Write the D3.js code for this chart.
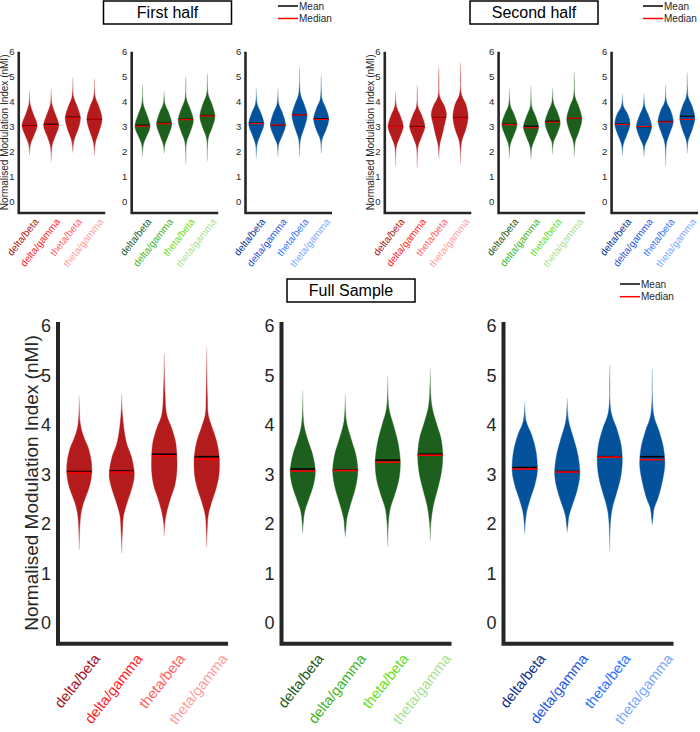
<!DOCTYPE html>
<html>
<head>
<meta charset="utf-8">
<script src="https://cdn.jsdelivr.net/npm/d3@7"></script>
<style>
  body { margin: 0; background: #fff; }
  text { font-family: "Liberation Sans", Arial, Helvetica, sans-serif; }
</style>
</head>
<body>
<div id="chart"></div>
<script>
var categories = ["delta/beta", "delta/gamma", "theta/beta", "theta/gamma"];
var yTicks = [0, 1, 2, 3, 4, 5, 6];
var yLabel = "Normalised Modulation Index (nMI)";
var legendLabels = ["Mean", "Median"];
var titles = ["First half", "Second half", "Full Sample"];

// fill per group: red, green, blue
var groupColors = ["#b31b1d", "#1d5f1d", "#04529b"];
var labelColors = [
  ["#a8121a", "#ff1c1c", "#ff5e5e", "#ff9c9c"],
  ["#1b5a1b", "#3fb325", "#66dd18", "#a9df92"],
  ["#0f2d8c", "#1f55de", "#2e74ff", "#79a9ff"]
];

// violin outlines: [value, relative half width]
var shapeFirst = [
  [
    [[4.45,0],[3.9,0.08],[3.5,0.5],[3.05,1],[2.6,0.5],[2.3,0.12],[1.85,0]],
    [[4.52,0],[3.9,0.1],[3.5,0.55],[3.05,1],[2.6,0.5],[2.25,0.12],[1.6,0]],
    [[4.97,0],[4.2,0.1],[3.8,0.6],[3.35,1],[2.9,0.7],[2.5,0.2],[1.96,0]],
    [[4.93,0],[4.2,0.1],[3.8,0.6],[3.3,1],[2.8,0.6],[2.4,0.15],[1.84,0]]
  ],
  [
    [[4.71,0],[3.9,0.1],[3.5,0.55],[3.0,1],[2.6,0.5],[2.3,0.12],[1.8,0]],
    [[4.4,0],[3.9,0.12],[3.6,0.55],[3.1,1],[2.65,0.55],[2.3,0.12],[1.93,0]],
    [[5.0,0],[4.1,0.1],[3.7,0.6],[3.25,1],[2.8,0.6],[2.4,0.12],[1.49,0]],
    [[5.13,0],[4.3,0.1],[3.9,0.6],[3.4,1],[2.95,0.6],[2.55,0.12],[1.63,0]]
  ],
  [
    [[4.53,0],[3.9,0.12],[3.55,0.6],[3.1,1],[2.65,0.5],[2.3,0.1],[1.73,0]],
    [[4.53,0],[3.9,0.12],[3.55,0.6],[3.05,1],[2.6,0.5],[2.3,0.1],[1.8,0]],
    [[5.4,0],[4.3,0.12],[3.9,0.6],[3.45,1],[2.95,0.6],[2.5,0.12],[1.8,0]],
    [[5.07,0],[4.1,0.12],[3.75,0.6],[3.3,1],[2.85,0.6],[2.5,0.12],[1.93,0]]
  ]
];
var shapeSecond = [
  [
    [[4.4,0],[3.8,0.12],[3.45,0.6],[3.0,1],[2.55,0.5],[2.2,0.1],[1.43,0]],
    [[4.67,0],[3.8,0.1],[3.45,0.6],[3.0,1],[2.55,0.5],[2.2,0.1],[1.33,0]],
    [[5.4,0],[4.2,0.12],[3.85,0.7],[3.5,1],[3.1,0.75],[2.7,0.45],[2.3,0.12],[1.73,0]],
    [[5.56,0],[4.3,0.12],[3.9,0.7],[3.4,1],[2.9,0.7],[2.4,0.15],[1.49,0]]
  ],
  [
    [[4.53,0],[3.85,0.12],[3.5,0.6],[3.08,1],[2.65,0.55],[2.3,0.12],[1.73,0]],
    [[4.63,0],[3.8,0.1],[3.45,0.55],[2.98,1],[2.55,0.55],[2.2,0.12],[1.69,0]],
    [[4.57,0],[3.95,0.12],[3.6,0.6],[3.15,1],[2.7,0.55],[2.4,0.12],[1.89,0]],
    [[5.2,0],[4.2,0.1],[3.8,0.6],[3.3,1],[2.8,0.6],[2.4,0.12],[1.8,0]]
  ],
  [
    [[4.31,0],[3.8,0.15],[3.5,0.7],[3.1,1],[2.65,0.55],[2.3,0.12],[1.83,0]],
    [[4.31,0],[3.8,0.12],[3.45,0.6],[3.0,1],[2.55,0.55],[2.25,0.12],[1.8,0]],
    [[4.67,0],[4.0,0.12],[3.65,0.65],[3.2,1],[2.75,0.55],[2.35,0.12],[1.4,0]],
    [[5.16,0],[4.2,0.12],[3.85,0.6],[3.35,1],[2.85,0.6],[2.45,0.12],[1.93,0]]
  ]
];
var shapeFull = [
  [
    [[4.58,0],[4.0,0.1],[3.73,0.4],[3.53,0.73],[3.26,0.96],[3.06,1],[2.85,0.9],[2.65,0.67],[2.45,0.37],[2.25,0.16],[2.05,0.07],[1.47,0]],
    [[4.63,0],[4.2,0.06],[3.66,0.35],[3.33,0.8],[2.99,1],[2.72,0.8],[2.45,0.45],[2.18,0.15],[1.84,0.05],[1.41,0]],
    [[5.45,0],[4.66,0.06],[4.2,0.2],[3.93,0.6],[3.66,0.9],[3.39,1],[3.06,1],[2.79,0.85],[2.52,0.5],[2.25,0.2],[2.05,0.06],[1.76,0]],
    [[5.56,0],[4.6,0.05],[4.2,0.12],[3.93,0.45],[3.66,0.8],[3.33,1],[2.99,0.97],[2.72,0.75],[2.45,0.4],[2.18,0.12],[1.91,0.04],[1.53,0]]
  ],
  [
    [[4.69,0],[4.0,0.1],[3.66,0.45],[3.39,0.8],[3.06,1],[2.79,0.85],[2.52,0.5],[2.25,0.15],[2.05,0.05],[1.8,0]],
    [[4.61,0],[4.07,0.1],[3.73,0.45],[3.39,0.85],[3.06,1],[2.72,0.8],[2.38,0.4],[2.11,0.12],[1.91,0.05],[1.74,0]],
    [[4.99,0],[4.33,0.1],[4.0,0.45],[3.66,0.8],[3.26,1],[2.92,0.9],[2.59,0.55],[2.32,0.2],[2.05,0.06],[1.54,0]],
    [[5.14,0],[4.4,0.12],[4.07,0.45],[3.73,0.85],[3.39,1],[3.06,0.9],[2.72,0.6],[2.38,0.25],[2.05,0.06],[1.66,0]]
  ],
  [
    [[4.47,0],[4.07,0.12],[3.8,0.55],[3.46,0.9],[3.06,1],[2.79,0.8],[2.52,0.45],[2.25,0.15],[2.05,0.05],[1.79,0]],
    [[4.54,0],[4.07,0.12],[3.73,0.5],[3.39,0.85],[2.99,1],[2.65,0.75],[2.38,0.4],[2.18,0.15],[1.98,0.05],[1.83,0]],
    [[5.2,0],[4.27,0.1],[3.93,0.55],[3.6,0.9],[3.26,1],[2.92,0.85],[2.59,0.5],[2.32,0.2],[2.05,0.06],[1.44,0]],
    [[5.13,0],[4.2,0.12],[3.87,0.55],[3.53,0.9],[3.19,1],[2.86,0.8],[2.52,0.45],[2.32,0.15],[2.11,0.05],[1.97,0]]
  ]
];

var meanFirst = [[3.04, 3.10, 3.38, 3.30], [3.06, 3.14, 3.30, 3.45], [3.14, 3.06, 3.48, 3.32]];
var medianFirst = [[3.02, 3.05, 3.35, 3.31], [3.02, 3.12, 3.28, 3.43], [3.12, 3.07, 3.47, 3.29]];
var meanSecond = [[3.01, 3.01, 3.37, 3.37], [3.10, 3.02, 3.22, 3.33], [3.10, 3.00, 3.21, 3.42]];
var medianSecond = [[3.00, 2.98, 3.35, 3.35], [3.08, 2.96, 3.18, 3.34], [3.09, 3.01, 3.19, 3.29]];
var meanFull = [[3.06, 3.07, 3.41, 3.36], [3.11, 3.09, 3.29, 3.41], [3.14, 3.06, 3.36, 3.36]];
var medianFull = [[3.04, 3.05, 3.38, 3.31], [3.07, 3.08, 3.25, 3.39], [3.11, 3.05, 3.35, 3.30]];

var _width = 700, _height = 732;
var _axisColor = "#262626";
var _gradId = 0;

var svg = d3.select("#chart").append("svg")
  .attr("width", _width)
  .attr("height", _height);
var defs = svg.append("defs");

// small and large panel geometry
var smallStyle = {
  width: 86.5, y6: 51.7, y0: 201.7, axisTop: 6.0, axisBottom: -0.45,
  axisW: 2.6, tickFont: 9.5, tickPad: 3, labelFont: 10, labelDx: 9, labelDy: 9,
  halfW: 0.35, lineW: 1.1, yLabelFont: 10, yLabelDx: -11
};
var bigStyle = {
  width: 170, y6: 326, y0: 623, axisTop: 6.08, axisBottom: -0.42,
  axisW: 4, tickFont: 18, tickPad: 5, labelFont: 14.5, labelDx: 21, labelDy: 15,
  halfW: 0.295, lineW: 1.6, yLabelFont: 19, yLabelDx: -20
};

function widthAt(knots, v) {
  for (var i = 0; i < knots.length - 1; i++) {
    var a = knots[i], b = knots[i + 1];
    if (v <= a[0] && v >= b[0]) {
      return a[1] + (b[1] - a[1]) * (a[0] - v) / (a[0] - b[0]);
    }
  }
  return 0;
}

function panel(x0, st, group, shapes, means, medians, showYLabel) {
  var y = d3.scaleLinear().domain([0, 6]).range([st.y0, st.y6]);
  var x = d3.scalePoint().domain(categories)
    .range([x0, x0 + st.width]).padding(0.5);
  var hw = x.step() * st.halfW;
  var yBottom = y(st.axisBottom);

  var g = svg.append("g").attr("class", "panel");

  // violins
  categories.forEach(function (c, i) {
    var knots = shapes[i];
    var cx = x(c);
    var hi = knots[0][0], lo = knots[knots.length - 1][0];
    var id = "vg" + (_gradId++);
    var grad = defs.append("linearGradient")
      .attr("id", id)
      .attr("gradientUnits", "userSpaceOnUse")
      .attr("x1", 0).attr("x2", 0)
      .attr("y1", y(hi)).attr("y2", y(lo));
    var t1 = (hi - knots[1][0]) / (hi - lo);
    var t2 = (hi - knots[knots.length - 2][0]) / (hi - lo);
    [[0, 0.3], [t1 * 0.6, 0.75], [t1, 1], [t2, 1], [1 - (1 - t2) * 0.6, 0.75], [1, 0.3]].forEach(function (s) {
      grad.append("stop")
        .attr("offset", s[0])
        .attr("stop-color", groupColors[group])
        .attr("stop-opacity", s[1]);
    });

    var area = d3.area()
      .curve(d3.curveCatmullRom.alpha(0.5))
      .y(function (d) { return y(d[0]); })
      .x0(function (d) { return cx - hw * d[1]; })
      .x1(function (d) { return cx + hw * d[1]; });

    g.append("path")
      .datum(knots)
      .attr("d", area)
      .attr("fill", "url(#" + id + ")")
      .attr("stroke", "url(#" + id + ")")
      .attr("stroke-width", 0.4);

    [[means[i], "#000"], [medians[i], "#ff0000"]].forEach(function (m) {
      var w = hw * widthAt(knots, m[0]);
      g.append("line")
        .attr("x1", cx - w).attr("x2", cx + w)
        .attr("y1", y(m[0])).attr("y2", y(m[0]))
        .attr("stroke", m[1])
        .attr("stroke-width", st.lineW);
    });
  });

  // y axis labels
  var yAxis = d3.axisLeft(y).tickValues(yTicks)
    .tickFormat(d3.format("d"))
    .tickSize(0).tickPadding(st.tickPad + st.axisW / 2);
  var ya = g.append("g")
    .attr("transform", "translate(" + x0 + ",0)")
    .call(yAxis);
  ya.select(".domain").remove();
  ya.selectAll("text")
    .attr("font-size", st.tickFont)
    .attr("font-family", "Liberation Sans, Arial, sans-serif")
    .attr("fill", _axisColor);

  // x axis labels
  var xa = g.append("g")
    .attr("transform", "translate(0," + yBottom + ")")
    .call(d3.axisBottom(x).tickSize(0));
  xa.select(".domain").remove();
  xa.selectAll("text")
    .attr("x", st.labelDx)
    .attr("y", st.labelDy)
    .attr("dy", null)
    .attr("text-anchor", "end")
    .attr("transform", "rotate(-52," + st.labelDx + "," + st.labelDy + ")")
    .attr("font-size", st.labelFont)
    .attr("font-family", "Liberation Sans, Arial, sans-serif")
    .attr("fill", function (d, i) { return labelColors[group][i]; });

  // axis lines
  g.append("path")
    .attr("d", "M" + x0 + "," + y(st.axisTop) + "V" + yBottom + "H" + (x0 + st.width))
    .attr("fill", "none")
    .attr("stroke", _axisColor)
    .attr("stroke-width", st.axisW);

  if (showYLabel) {
    var cy = (y(st.axisTop) + yBottom) / 2;
    g.append("text")
      .attr("transform", "translate(" + (x0 + st.yLabelDx) + "," + cy + ") rotate(-90)")
      .attr("text-anchor", "middle")
      .attr("font-size", st.yLabelFont)
      .attr("fill", _axisColor)
      .text(yLabel);
  }
}

function titleBox(x, y, w, h, label) {
  svg.append("rect")
    .attr("x", x).attr("y", y)
    .attr("width", w).attr("height", h)
    .attr("fill", "#fff")
    .attr("stroke", "#000")
    .attr("stroke-width", 1.5);
  svg.append("text")
    .attr("x", x + w / 2).attr("y", y + h / 2)
    .attr("dy", "0.35em")
    .attr("text-anchor", "middle")
    .attr("font-size", 16)
    .attr("fill", "#000")
    .text(label);
}

function legend(x, y, gap) {
  var colors = ["#000", "#ff0000"];
  legendLabels.forEach(function (l, i) {
    var ly = y + i * gap;
    svg.append("line")
      .attr("x1", x).attr("x2", x + 20)
      .attr("y1", ly).attr("y2", ly)
      .attr("stroke", colors[i])
      .attr("stroke-width", 1.5);
    svg.append("text")
      .attr("x", x + 21).attr("y", ly)
      .attr("dy", "0.35em")
      .attr("font-size", 10)
      .attr("fill", "#262626")
      .text(l);
  });
}

// top row: first half and second half
var smallX = [18.75, 131.7, 245.5, 384.8, 498.6, 611.6];
[0, 1, 2].forEach(function (k) {
  panel(smallX[k], smallStyle, k, shapeFirst[k], meanFirst[k], medianFirst[k], k === 0);
  panel(smallX[k + 3], smallStyle, k, shapeSecond[k], meanSecond[k], medianSecond[k], k === 0);
});

// bottom row: full sample
var bigX = [58, 281.5, 503.5];
[0, 1, 2].forEach(function (k) {
  panel(bigX[k], bigStyle, k, shapeFull[k], meanFull[k], medianFull[k], k === 0);
});

titleBox(103.5, 1, 128, 23, titles[0]);
titleBox(470, 1, 128, 23, titles[1]);
titleBox(287, 279, 128, 23, titles[2]);

legend(278, 6, 12.5);
legend(643, 6, 12.5);
legend(620, 284, 12.7);
</script>
</body>
</html>
